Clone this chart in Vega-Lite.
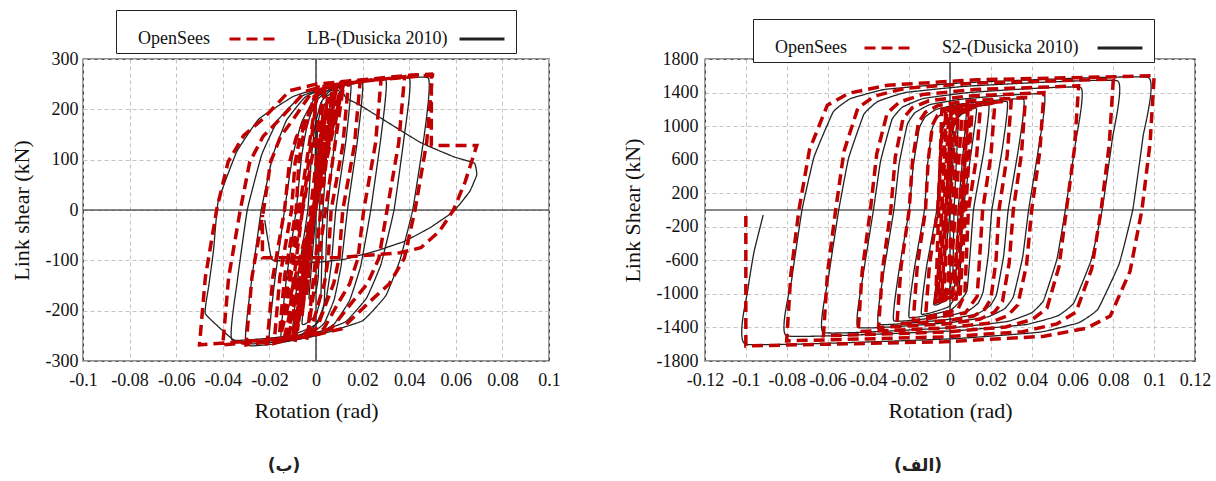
{
"$schema": "https://vega.github.io/schema/vega-lite/v6.json",
"background": "white",
"padding": {"left": 9, "top": 8, "right": 5, "bottom": 0},
"bounds": "flush",
"spacing": 156,
"resolve": {"scale": {"x": "independent", "y": "independent", "color": "independent", "strokeDash": "independent"}, "axis": {"x": "independent", "y": "independent"}, "legend": {"color": "independent", "strokeDash": "independent"}},
"config": {
"font": "Liberation Serif, Times New Roman, DejaVu Serif, serif",
"view": {"stroke": "#222", "strokeWidth": 1.3},
"style": {"guide-label": {"font": "Liberation Serif, Times New Roman, DejaVu Serif, serif"}, "guide-title": {"font": "Liberation Serif, Times New Roman, DejaVu Serif, serif"}},
"axis": {"labelOverlap": false, "tickCount": 20, "labelFont": "Liberation Serif, Times New Roman, DejaVu Serif, serif", "titleFont": "Liberation Serif, Times New Roman, DejaVu Serif, serif", "labelFontSize": 18, "titleFontSize": 22, "titleFontWeight": "normal", "labelColor": "#111", "titleColor": "#111", "grid": true, "gridDash": [4,3], "gridColor": "#c4c4c4", "ticks": false, "domain": false},
"legend": {"orient": "none", "direction": "horizontal", "strokeColor": "#222", "fillColor": "white", "padding": 5, "symbolType": "stroke", "symbolSize": 2025, "symbolStrokeWidth": 3, "labelFont": "Liberation Serif, Times New Roman, DejaVu Serif, serif", "labelFontSize": 18, "labelColor": "#111", "labelLimit": 400, "labelAlign": "left", "columnPadding": 26, "cornerRadius": 0}
},
"datasets": {
"lbE": [
{"s":"E","x":0,"y":0},{"s":"E","x":0.003,"y":170},{"s":"E","x":0.0015,"y":0},{"s":"E","x":0.001,"y":-131},{"s":"E","x":-0.0001,"y":-163},{"s":"E","x":-0.003,"y":-175},
{"s":"E","x":0,"y":0},{"s":"E","x":0.0006,"y":161},{"s":"E","x":0.0021,"y":200},{"s":"E","x":0.006,"y":215},
{"s":"E","x":0.003,"y":0},{"s":"E","x":0.0021,"y":-169},{"s":"E","x":-0.0001,"y":-209},{"s":"E","x":-0.006,"y":-225},
{"s":"E","x":-0.001,"y":0},{"s":"E","x":0.0001,"y":176},{"s":"E","x":0.0029,"y":219},{"s":"E","x":0.01,"y":235},
{"s":"E","x":0.005,"y":0},{"s":"E","x":0.0035,"y":-184},{"s":"E","x":-0.0003,"y":-228},{"s":"E","x":-0.01,"y":-245},
{"s":"E","x":-0.0078,"y":-135},{"s":"E","x":-0.0035,"y":0},{"s":"E","x":-0.002,"y":104},{"s":"E","x":-0.0004,"y":169},{"s":"E","x":0.0021,"y":213},{"s":"E","x":0.0058,"y":236},{"s":"E","x":0.015,"y":248},
{"s":"E","x":0.0128,"y":136},{"s":"E","x":0.0085,"y":0},{"s":"E","x":0.0066,"y":-107},{"s":"E","x":0.0045,"y":-173},{"s":"E","x":0.0015,"y":-219},{"s":"E","x":-0.0033,"y":-242},{"s":"E","x":-0.015,"y":-255},
{"s":"E","x":-0.0128,"y":-140},{"s":"E","x":-0.0085,"y":0},{"s":"E","x":-0.0062,"y":106},{"s":"E","x":-0.0037,"y":171},{"s":"E","x":0.0001,"y":217},{"s":"E","x":0.0058,"y":239},{"s":"E","x":0.02,"y":252},
{"s":"E","x":0.0178,"y":139},{"s":"E","x":0.0135,"y":0},{"s":"E","x":0.0108,"y":-110},{"s":"E","x":0.0078,"y":-178},{"s":"E","x":0.0035,"y":-225},{"s":"E","x":-0.0033,"y":-249},{"s":"E","x":-0.02,"y":-262},
{"s":"E","x":-0.0178,"y":-144},{"s":"E","x":-0.0135,"y":0},{"s":"E","x":-0.01,"y":108},{"s":"E","x":-0.0061,"y":175},{"s":"E","x":-0.0005,"y":222},{"s":"E","x":0.0083,"y":245},{"s":"E","x":0.03,"y":258},
{"s":"E","x":0.0278,"y":142},{"s":"E","x":0.0235,"y":0},{"s":"E","x":0.0192,"y":-111},{"s":"E","x":0.0144,"y":-180},{"s":"E","x":0.0075,"y":-228},{"s":"E","x":-0.0033,"y":-252},{"s":"E","x":-0.03,"y":-265},
{"s":"E","x":-0.0278,"y":-146},{"s":"E","x":-0.0235,"y":0},{"s":"E","x":-0.0184,"y":110},{"s":"E","x":-0.0127,"y":178},{"s":"E","x":-0.0045,"y":225},{"s":"E","x":0.0083,"y":249},{"s":"E","x":0.04,"y":262},
{"s":"E","x":0.0378,"y":144},{"s":"E","x":0.0335,"y":0},{"s":"E","x":0.0279,"y":-108},{"s":"E","x":0.0217,"y":-175},{"s":"E","x":0.0127,"y":-222},{"s":"E","x":-0.0013,"y":-245},{"s":"E","x":-0.036,"y":-258},
{"s":"E","x":-0.0338,"y":-142},{"s":"E","x":-0.0295,"y":0},{"s":"E","x":-0.0233,"y":110},{"s":"E","x":-0.0163,"y":179},{"s":"E","x":-0.0063,"y":226},{"s":"E","x":0.0093,"y":250},{"s":"E","x":0.048,"y":263},
{"s":"E","x":0.0465,"y":150},{"s":"E","x":0.0415,"y":0},{"s":"E","x":0.036,"y":-100},{"s":"E","x":0.03,"y":-170},{"s":"E","x":0.02,"y":-220},{"s":"E","x":0,"y":-250},{"s":"E","x":-0.018,"y":-266},{"s":"E","x":-0.028,"y":-270},{"s":"E","x":-0.036,"y":-256},{"s":"E","x":-0.0475,"y":-206},
{"s":"E","x":-0.046,"y":-150},{"s":"E","x":-0.044,"y":-81},{"s":"E","x":-0.042,"y":17},{"s":"E","x":-0.034,"y":116},{"s":"E","x":-0.0245,"y":181},{"s":"E","x":-0.01,"y":225},{"s":"E","x":0,"y":240},{"s":"E","x":0.01,"y":244},{"s":"E","x":0.013,"y":222},{"s":"E","x":0.019,"y":208},{"s":"E","x":0.0445,"y":135},{"s":"E","x":0.059,"y":106},{"s":"E","x":0.068,"y":93},{"s":"E","x":0.069,"y":70},{"s":"E","x":0.066,"y":37},{"s":"E","x":0.059,"y":-3},{"s":"E","x":0.049,"y":-35},{"s":"E","x":0.038,"y":-62},{"s":"E","x":0.026,"y":-81},{"s":"E","x":0.012,"y":-98},{"s":"E","x":0,"y":-104},{"s":"E","x":-0.011,"y":-101},{"s":"E","x":-0.019,"y":-98},{"s":"E","x":-0.022,"y":-20}
],
"lbO": [
{"s":"O","x":0,"y":0},{"s":"O","x":0.002,"y":150},{"s":"O","x":-0.004,"y":-170},{"s":"O","x":0.003,"y":190},{"s":"O","x":-0.006,"y":-210},{"s":"O","x":0.005,"y":225},{"s":"O","x":-0.008,"y":-240},{"s":"O","x":0.007,"y":240},{"s":"O","x":-0.01,"y":-252},{"s":"O","x":0.009,"y":248},{"s":"O","x":-0.012,"y":-258},{"s":"O","x":0.011,"y":252},{"s":"O","x":-0.014,"y":-262},{"s":"O","x":0.012,"y":254},{"s":"O","x":-0.016,"y":-264},
{"s":"O","x":0.004,"y":250},{"s":"O","x":-0.009,"y":-262},{"s":"O","x":0.008,"y":252},{"s":"O","x":-0.004,"y":-260},{"s":"O","x":0.012,"y":254},{"s":"O","x":-0.013,"y":-263},{"s":"O","x":0.001,"y":248},{"s":"O","x":-0.016,"y":-264},
{"s":"O","x":-0.0135,"y":-132},{"s":"O","x":-0.0085,"y":0},{"s":"O","x":-0.0074,"y":92},{"s":"O","x":-0.0058,"y":141},{"s":"O","x":-0.0038,"y":174},{"s":"O","x":-0.0009,"y":225},{"s":"O","x":0.0028,"y":241},{"s":"O","x":0.014,"y":256},
{"s":"O","x":0.0115,"y":128},{"s":"O","x":0.0065,"y":0},{"s":"O","x":0.0053,"y":-95},{"s":"O","x":0.0036,"y":-146},{"s":"O","x":0.0014,"y":-180},{"s":"O","x":-0.0018,"y":-233},{"s":"O","x":-0.0058,"y":-249},{"s":"O","x":-0.018,"y":-265},
{"s":"O","x":-0.0155,"y":-133},{"s":"O","x":-0.0105,"y":0},{"s":"O","x":-0.009,"y":93},{"s":"O","x":-0.007,"y":142},{"s":"O","x":-0.0043,"y":175},{"s":"O","x":-0.0005,"y":227},{"s":"O","x":0.0043,"y":243},{"s":"O","x":0.019,"y":258},
{"s":"O","x":0.0165,"y":129},{"s":"O","x":0.0115,"y":0},{"s":"O","x":0.0099,"y":-96},{"s":"O","x":0.0076,"y":-146},{"s":"O","x":0.0047,"y":-181},{"s":"O","x":0.0005,"y":-234},{"s":"O","x":-0.0048,"y":-250},{"s":"O","x":-0.021,"y":-266},
{"s":"O","x":-0.0185,"y":-133},{"s":"O","x":-0.0135,"y":0},{"s":"O","x":-0.0114,"y":94},{"s":"O","x":-0.0085,"y":144},{"s":"O","x":-0.0048,"y":178},{"s":"O","x":0.0006,"y":231},{"s":"O","x":0.0073,"y":246},{"s":"O","x":0.028,"y":262},
{"s":"O","x":0.0255,"y":131},{"s":"O","x":0.0205,"y":0},{"s":"O","x":0.018,"y":-96},{"s":"O","x":0.0144,"y":-147},{"s":"O","x":0.0099,"y":-182},{"s":"O","x":0.0033,"y":-236},{"s":"O","x":-0.0048,"y":-252},{"s":"O","x":-0.03,"y":-268},
{"s":"O","x":-0.0275,"y":-134},{"s":"O","x":-0.0225,"y":0},{"s":"O","x":-0.0195,"y":95},{"s":"O","x":-0.0152,"y":146},{"s":"O","x":-0.0098,"y":180},{"s":"O","x":-0.0019,"y":233},{"s":"O","x":0.0078,"y":249},{"s":"O","x":0.038,"y":265},
{"s":"O","x":0.0355,"y":133},{"s":"O","x":0.0305,"y":0},{"s":"O","x":0.027,"y":-96},{"s":"O","x":0.022,"y":-147},{"s":"O","x":0.0157,"y":-182},{"s":"O","x":0.0065,"y":-236},{"s":"O","x":-0.0048,"y":-252},{"s":"O","x":-0.04,"y":-268},
{"s":"O","x":-0.0375,"y":-134},{"s":"O","x":-0.0325,"y":0},{"s":"O","x":-0.0284,"y":96},{"s":"O","x":-0.0226,"y":147},{"s":"O","x":-0.0152,"y":182},{"s":"O","x":-0.0045,"y":236},{"s":"O","x":0.0088,"y":252},{"s":"O","x":0.05,"y":268},
{"s":"O","x":0.0475,"y":134},{"s":"O","x":0.0425,"y":0},{"s":"O","x":0.0379,"y":-96},{"s":"O","x":0.0314,"y":-147},{"s":"O","x":0.0231,"y":-182},{"s":"O","x":0.011,"y":-236},{"s":"O","x":-0.0038,"y":-252},{"s":"O","x":-0.05,"y":-268},
{"s":"O","x":-0.0475,"y":-134},{"s":"O","x":-0.0425,"y":4},{"s":"O","x":-0.0377,"y":96},{"s":"O","x":-0.031,"y":148},{"s":"O","x":-0.0228,"y":181},{"s":"O","x":-0.0113,"y":237},{"s":"O","x":0,"y":250},{"s":"O","x":0.041,"y":268},{"s":"O","x":0.0495,"y":270},{"s":"O","x":0.0495,"y":128},{"s":"O","x":0.069,"y":128},{"s":"O","x":0.064,"y":56},{"s":"O","x":0.059,"y":0},{"s":"O","x":0.053,"y":-42},{"s":"O","x":0.045,"y":-75},{"s":"O","x":0.036,"y":-85},{"s":"O","x":0.008,"y":-95},{"s":"O","x":-0.023,"y":-95},{"s":"O","x":-0.023,"y":-10}
],
"s2E": [
{"s":"E","x":0,"y":0},{"s":"E","x":0.002,"y":800},{"s":"E","x":0.004,"y":1050},
{"s":"E","x":0.002,"y":0},{"s":"E","x":0.0014,"y":-750},{"s":"E","x":-0.0001,"y":-930},{"s":"E","x":-0.004,"y":-1000},
{"s":"E","x":0,"y":0},{"s":"E","x":0.0008,"y":862},{"s":"E","x":0.0028,"y":1070},{"s":"E","x":0.008,"y":1150},
{"s":"E","x":0.004,"y":0},{"s":"E","x":0.0028,"y":-840},{"s":"E","x":-0.0002,"y":-1042},{"s":"E","x":-0.008,"y":-1120},
{"s":"E","x":-0.0015,"y":0},{"s":"E","x":-0.0001,"y":900},{"s":"E","x":0.0036,"y":1116},{"s":"E","x":0.013,"y":1200},
{"s":"E","x":0.0065,"y":0},{"s":"E","x":0.0045,"y":-930},{"s":"E","x":-0.0007,"y":-1153},{"s":"E","x":-0.014,"y":-1240},
{"s":"E","x":-0.0115,"y":-680},{"s":"E","x":-0.0065,"y":0},{"s":"E","x":-0.004,"y":938},{"s":"E","x":0.0024,"y":1163},{"s":"E","x":0.019,"y":1250},
{"s":"E","x":0.0165,"y":690},{"s":"E","x":0.0115,"y":0},{"s":"E","x":0.0083,"y":-960},{"s":"E","x":0.0005,"y":-1190},{"s":"E","x":-0.02,"y":-1280},
{"s":"E","x":-0.0175,"y":-704},{"s":"E","x":-0.0125,"y":0},{"s":"E","x":-0.0111,"y":516},{"s":"E","x":-0.0089,"y":955},{"s":"E","x":-0.0068,"y":1084},{"s":"E","x":-0.0028,"y":1174},{"s":"E","x":0.0065,"y":1238},{"s":"E","x":0.028,"y":1290},
{"s":"E","x":0.0255,"y":710},{"s":"E","x":0.0205,"y":0},{"s":"E","x":0.0188,"y":-528},{"s":"E","x":0.0162,"y":-977},{"s":"E","x":0.0138,"y":-1109},{"s":"E","x":0.009,"y":-1201},{"s":"E","x":-0.0021,"y":-1267},{"s":"E","x":-0.0275,"y":-1320},
{"s":"E","x":-0.025,"y":-726},{"s":"E","x":-0.02,"y":0},{"s":"E","x":-0.018,"y":528},{"s":"E","x":-0.015,"y":977},{"s":"E","x":-0.0122,"y":1109},{"s":"E","x":-0.0066,"y":1201},{"s":"E","x":0.0063,"y":1267},{"s":"E","x":0.036,"y":1320},
{"s":"E","x":0.0335,"y":726},{"s":"E","x":0.0285,"y":0},{"s":"E","x":0.0263,"y":-544},{"s":"E","x":0.0228,"y":-1006},{"s":"E","x":0.0196,"y":-1142},{"s":"E","x":0.0133,"y":-1238},{"s":"E","x":-0.0014,"y":-1306},{"s":"E","x":-0.035,"y":-1360},
{"s":"E","x":-0.0325,"y":-748},{"s":"E","x":-0.0275,"y":0},{"s":"E","x":-0.0249,"y":552},{"s":"E","x":-0.0209,"y":1021},{"s":"E","x":-0.0172,"y":1159},{"s":"E","x":-0.0099,"y":1256},{"s":"E","x":0.0071,"y":1325},{"s":"E","x":0.046,"y":1380},
{"s":"E","x":0.0435,"y":759},{"s":"E","x":0.0385,"y":0},{"s":"E","x":0.0356,"y":-560},{"s":"E","x":0.031,"y":-1036},{"s":"E","x":0.0268,"y":-1176},{"s":"E","x":0.0185,"y":-1274},{"s":"E","x":-0.0008,"y":-1344},{"s":"E","x":-0.045,"y":-1400},
{"s":"E","x":-0.0425,"y":-770},{"s":"E","x":-0.0375,"y":0},{"s":"E","x":-0.034,"y":584},{"s":"E","x":-0.0284,"y":1080},{"s":"E","x":-0.0233,"y":1226},{"s":"E","x":-0.0131,"y":1329},{"s":"E","x":0.0102,"y":1402},{"s":"E","x":0.064,"y":1460},
{"s":"E","x":0.0615,"y":803},{"s":"E","x":0.0565,"y":0},{"s":"E","x":0.0524,"y":-584},{"s":"E","x":0.0458,"y":-1080},{"s":"E","x":0.0399,"y":-1226},{"s":"E","x":0.0281,"y":-1329},{"s":"E","x":0.0008,"y":-1402},{"s":"E","x":-0.062,"y":-1460},
{"s":"E","x":-0.0595,"y":-803},{"s":"E","x":-0.0545,"y":0},{"s":"E","x":-0.0497,"y":616},{"s":"E","x":-0.0422,"y":1140},{"s":"E","x":-0.0354,"y":1294},{"s":"E","x":-0.0217,"y":1401},{"s":"E","x":0.0097,"y":1478},{"s":"E","x":0.082,"y":1540},
{"s":"E","x":0.0795,"y":847},{"s":"E","x":0.0745,"y":0},{"s":"E","x":0.0691,"y":-600},{"s":"E","x":0.0606,"y":-1110},{"s":"E","x":0.0529,"y":-1260},{"s":"E","x":0.0374,"y":-1365},{"s":"E","x":0.0019,"y":-1440},{"s":"E","x":-0.08,"y":-1500},
{"s":"E","x":-0.0775,"y":-825},{"s":"E","x":-0.0725,"y":0},{"s":"E","x":-0.0666,"y":632},{"s":"E","x":-0.0572,"y":1169},{"s":"E","x":-0.0488,"y":1327},{"s":"E","x":-0.0318,"y":1438},{"s":"E","x":0.0072,"y":1517},{"s":"E","x":0.097,"y":1580},
{"s":"E","x":0.0945,"y":869},{"s":"E","x":0.0895,"y":0},{"s":"E","x":0.0829,"y":-640},{"s":"E","x":0.0724,"y":-1184},{"s":"E","x":0.063,"y":-1344},{"s":"E","x":0.044,"y":-1456},{"s":"E","x":0.0004,"y":-1536},{"s":"E","x":-0.1,"y":-1600},
{"s":"E","x":-0.099,"y":-950},{"s":"E","x":-0.096,"y":-500},{"s":"E","x":-0.0915,"y":-60}
],
"s2O": [
{"s":"O","x":0,"y":0},{"s":"O","x":0.0025,"y":1000},{"s":"O","x":0.004,"y":1150},
{"s":"O","x":-0.001,"y":-900},{"s":"O","x":-0.003,"y":-1000},
{"s":"O","x":0.0015,"y":1120},{"s":"O","x":0.006,"y":1180},
{"s":"O","x":0,"y":-930},{"s":"O","x":-0.004,"y":-1030},
{"s":"O","x":0.0005,"y":1150},{"s":"O","x":0.008,"y":1210},
{"s":"O","x":0.002,"y":-950},{"s":"O","x":-0.005,"y":-1060},
{"s":"O","x":-0.0005,"y":1180},{"s":"O","x":0.01,"y":1240},
{"s":"O","x":0.004,"y":-980},{"s":"O","x":-0.006,"y":-1080},
{"s":"O","x":-0.0015,"y":1190},{"s":"O","x":0.011,"y":1250},
{"s":"O","x":0.005,"y":-1000},{"s":"O","x":-0.007,"y":-1100},
{"s":"O","x":-0.004,"y":1200},{"s":"O","x":0.009,"y":1245},{"s":"O","x":0.003,"y":-1060},{"s":"O","x":-0.006,"y":-1090},{"s":"O","x":-0.002,"y":1215},{"s":"O","x":0.01,"y":1250},{"s":"O","x":0.001,"y":-1050},{"s":"O","x":-0.007,"y":-1100},
{"s":"O","x":-0.005,"y":-550},{"s":"O","x":-0.001,"y":0},{"s":"O","x":0.0003,"y":983},{"s":"O","x":0.003,"y":1172},{"s":"O","x":0.015,"y":1260},
{"s":"O","x":0.013,"y":630},{"s":"O","x":0.009,"y":0},{"s":"O","x":0.0073,"y":-998},{"s":"O","x":0.0038,"y":-1190},{"s":"O","x":-0.012,"y":-1280},
{"s":"O","x":-0.01,"y":-640},{"s":"O","x":-0.006,"y":0},{"s":"O","x":-0.0038,"y":998},{"s":"O","x":0.001,"y":1190},{"s":"O","x":0.022,"y":1280},
{"s":"O","x":0.02,"y":640},{"s":"O","x":0.016,"y":0},{"s":"O","x":0.0133,"y":-1030},{"s":"O","x":0.0075,"y":-1228},{"s":"O","x":-0.018,"y":-1320},
{"s":"O","x":-0.016,"y":-660},{"s":"O","x":-0.012,"y":0},{"s":"O","x":-0.0107,"y":585},{"s":"O","x":-0.0086,"y":1014},{"s":"O","x":-0.0061,"y":1131},{"s":"O","x":-0.0015,"y":1209},{"s":"O","x":0.009,"y":1261},{"s":"O","x":0.03,"y":1300},
{"s":"O","x":0.028,"y":650},{"s":"O","x":0.024,"y":0},{"s":"O","x":0.0225,"y":-612},{"s":"O","x":0.02,"y":-1061},{"s":"O","x":0.017,"y":-1183},{"s":"O","x":0.0115,"y":-1265},{"s":"O","x":-0.001,"y":-1319},{"s":"O","x":-0.026,"y":-1360},
{"s":"O","x":-0.024,"y":-680},{"s":"O","x":-0.02,"y":0},{"s":"O","x":-0.0183,"y":603},{"s":"O","x":-0.0154,"y":1045},{"s":"O","x":-0.012,"y":1166},{"s":"O","x":-0.0058,"y":1246},{"s":"O","x":0.0085,"y":1300},{"s":"O","x":0.037,"y":1340},
{"s":"O","x":0.035,"y":670},{"s":"O","x":0.031,"y":0},{"s":"O","x":0.029,"y":-630},{"s":"O","x":0.0257,"y":-1092},{"s":"O","x":0.0218,"y":-1218},{"s":"O","x":0.0145,"y":-1302},{"s":"O","x":-0.002,"y":-1358},{"s":"O","x":-0.035,"y":-1400},
{"s":"O","x":-0.033,"y":-700},{"s":"O","x":-0.029,"y":0},{"s":"O","x":-0.0268,"y":630},{"s":"O","x":-0.023,"y":1092},{"s":"O","x":-0.0185,"y":1218},{"s":"O","x":-0.0103,"y":1302},{"s":"O","x":0.0085,"y":1358},{"s":"O","x":0.046,"y":1400},
{"s":"O","x":0.044,"y":700},{"s":"O","x":0.04,"y":0},{"s":"O","x":0.0375,"y":-653},{"s":"O","x":0.0332,"y":-1131},{"s":"O","x":0.0281,"y":-1262},{"s":"O","x":0.0188,"y":-1349},{"s":"O","x":-0.0025,"y":-1407},{"s":"O","x":-0.045,"y":-1450},
{"s":"O","x":-0.043,"y":-725},{"s":"O","x":-0.039,"y":0},{"s":"O","x":-0.0359,"y":666},{"s":"O","x":-0.0308,"y":1154},{"s":"O","x":-0.0247,"y":1288},{"s":"O","x":-0.0135,"y":1376},{"s":"O","x":0.012,"y":1436},{"s":"O","x":0.063,"y":1480},
{"s":"O","x":0.061,"y":740},{"s":"O","x":0.057,"y":0},{"s":"O","x":0.0534,"y":-675},{"s":"O","x":0.0475,"y":-1170},{"s":"O","x":0.0403,"y":-1305},{"s":"O","x":0.0273,"y":-1395},{"s":"O","x":-0.0025,"y":-1455},{"s":"O","x":-0.062,"y":-1500},
{"s":"O","x":-0.06,"y":-750},{"s":"O","x":-0.056,"y":0},{"s":"O","x":-0.0519,"y":702},{"s":"O","x":-0.0451,"y":1217},{"s":"O","x":-0.037,"y":1357},{"s":"O","x":-0.022,"y":1451},{"s":"O","x":0.012,"y":1513},{"s":"O","x":0.08,"y":1560},
{"s":"O","x":0.078,"y":780},{"s":"O","x":0.074,"y":0},{"s":"O","x":0.0694,"y":-702},{"s":"O","x":0.0617,"y":-1217},{"s":"O","x":0.0524,"y":-1357},{"s":"O","x":0.0355,"y":-1451},{"s":"O","x":-0.003,"y":-1513},{"s":"O","x":-0.08,"y":-1560},
{"s":"O","x":-0.078,"y":-780},{"s":"O","x":-0.074,"y":0},{"s":"O","x":-0.0688,"y":720},{"s":"O","x":-0.0601,"y":1248},{"s":"O","x":-0.0496,"y":1392},{"s":"O","x":-0.0305,"y":1488},{"s":"O","x":0.013,"y":1552},{"s":"O","x":0.1,"y":1600},
{"s":"O","x":0.098,"y":800},{"s":"O","x":0.094,"y":0},{"s":"O","x":0.0882,"y":-729},{"s":"O","x":0.0785,"y":-1264},{"s":"O","x":0.0668,"y":-1409},{"s":"O","x":0.0455,"y":-1507},{"s":"O","x":-0.003,"y":-1571},{"s":"O","x":-0.1,"y":-1620},
{"s":"O","x":-0.1,"y":0}
]
},
"hconcat": [
{
"width": 466, "height": 302,
"title": {"text": "(ب)", "orient": "bottom", "anchor": "middle", "offset": 37, "dx": -32, "font": "DejaVu Sans", "fontSize": 17, "fontWeight": "bold", "color": "#222"},
"layer": [
{"data": {"values": [{}]}, "mark": {"type": "rule", "color": "#111", "strokeWidth": 1.2}, "encoding": {"x": {"datum": 0, "type": "quantitative"}}},
{"data": {"values": [{}]}, "mark": {"type": "rule", "color": "#111", "strokeWidth": 1.2}, "encoding": {"y": {"datum": 0, "type": "quantitative"}}},
{"data": {"name": "lbE"}, "mark": {"type": "line", "strokeWidth": 1.3, "clip": true, "interpolate": "cardinal", "tension": 0.7},
"encoding": {
"x": {"field": "x", "type": "quantitative", "scale": {"domain": [-0.1, 0.1], "nice": false, "zero": false},
"axis": {"title": "Rotation (rad)", "values": [-0.1,-0.08,-0.06,-0.04,-0.02,0,0.02,0.04,0.06,0.08,0.1], "tickCount": 20, "labelExpr": "toString(datum.value)", "labelFont": "Liberation Serif, Times New Roman, DejaVu Serif, serif", "titleFont": "Liberation Serif, Times New Roman, DejaVu Serif, serif", "labelFontSize": 18, "titleFontSize": 22, "labelPadding": 10, "labelFlush": false, "labelOverlap": false, "titlePadding": 11}},
"y": {"field": "y", "type": "quantitative", "scale": {"domain": [-300, 300], "nice": false, "zero": false},
"axis": {"title": "Link shear (kN)", "values": [-300,-200,-100,0,100,200,300], "tickCount": 20, "labelExpr": "toString(datum.value)", "labelFont": "Liberation Serif, Times New Roman, DejaVu Serif, serif", "titleFont": "Liberation Serif, Times New Roman, DejaVu Serif, serif", "labelFontSize": 18, "titleFontSize": 22, "labelPadding": 5, "labelOverlap": false, "titlePadding": 12}},
"color": {"field": "s", "type": "nominal", "scale": {"domain": ["O", "E"], "range": ["#C00000", "#222222"]}, "legend": {"title": null, "legendX": 33, "legendY": -49, "labelExpr": "datum.label == 'O' ? 'OpenSees' : 'LB-(Dusicka 2010)'", "encode": {"labels": {"update": {"x": {"signal": "datum.value === 'O' ? 17 : 0"}}}, "symbols": {"update": {"x": {"signal": "datum.value === 'O' ? 131 : 175"}, "stroke": {"signal": "datum.value === 'O' ? '#e00000' : '#111111'"}}}}}},
"strokeDash": {"field": "s", "type": "nominal", "scale": {"domain": ["O", "E"], "range": [[11, 6], [1, 0]]}, "legend": {"title": null, "legendX": 33, "legendY": -49, "labelExpr": "datum.label == 'O' ? 'OpenSees' : 'LB-(Dusicka 2010)'", "encode": {"labels": {"update": {"x": {"signal": "datum.value === 'O' ? 17 : 0"}}}, "symbols": {"update": {"x": {"signal": "datum.value === 'O' ? 131 : 175"}, "stroke": {"signal": "datum.value === 'O' ? '#e00000' : '#111111'"}}}}}},
"order": {"value": null}
}},
{"data": {"name": "lbO"}, "mark": {"type": "line", "strokeWidth": 3.5, "clip": true},
"encoding": {
"x": {"field": "x", "type": "quantitative"},
"y": {"field": "y", "type": "quantitative"},
"color": {"field": "s", "type": "nominal"},
"strokeDash": {"field": "s", "type": "nominal"},
"order": {"value": null}
}}
]
},
{
"width": 490, "height": 302,
"title": {"text": "(الف)", "orient": "bottom", "anchor": "middle", "offset": 37, "dx": -32, "font": "DejaVu Sans", "fontSize": 17, "fontWeight": "bold", "color": "#222"},
"layer": [
{"data": {"values": [{}]}, "mark": {"type": "rule", "color": "#111", "strokeWidth": 1.2}, "encoding": {"x": {"datum": 0, "type": "quantitative"}}},
{"data": {"values": [{}]}, "mark": {"type": "rule", "color": "#111", "strokeWidth": 1.2}, "encoding": {"y": {"datum": 0, "type": "quantitative"}}},
{"data": {"name": "s2E"}, "mark": {"type": "line", "strokeWidth": 1.3, "clip": true, "interpolate": "cardinal", "tension": 0.7},
"encoding": {
"x": {"field": "x", "type": "quantitative", "scale": {"domain": [-0.12, 0.12], "nice": false, "zero": false},
"axis": {"title": "Rotation (rad)", "values": [-0.12,-0.1,-0.08,-0.06,-0.04,-0.02,0,0.02,0.04,0.06,0.08,0.1,0.12], "tickCount": 20, "labelExpr": "toString(datum.value)", "labelFont": "Liberation Serif, Times New Roman, DejaVu Serif, serif", "titleFont": "Liberation Serif, Times New Roman, DejaVu Serif, serif", "labelFontSize": 18, "titleFontSize": 22, "labelPadding": 10, "labelFlush": false, "labelOverlap": false, "titlePadding": 11}},
"y": {"field": "y", "type": "quantitative", "scale": {"domain": [-1800, 1800], "nice": false, "zero": false},
"axis": {"title": "Link Shear (kN)", "values": [-1800,-1400,-1000,-600,-200,200,600,1000,1400,1800], "tickCount": 20, "labelExpr": "toString(datum.value)", "labelFont": "Liberation Serif, Times New Roman, DejaVu Serif, serif", "titleFont": "Liberation Serif, Times New Roman, DejaVu Serif, serif", "labelFontSize": 18, "titleFontSize": 22, "labelPadding": 7, "labelOverlap": false, "titlePadding": 12}},
"color": {"field": "s", "type": "nominal", "scale": {"domain": ["O", "E"], "range": ["#C00000", "#222222"]}, "legend": {"title": null, "legendX": 48, "legendY": -40, "labelExpr": "datum.label == 'O' ? 'OpenSees' : 'S2-(Dusicka 2010)'", "encode": {"labels": {"update": {"x": {"signal": "datum.value === 'O' ? 17 : 0"}}}, "symbols": {"update": {"x": {"signal": "datum.value === 'O' ? 129 : 178"}, "stroke": {"signal": "datum.value === 'O' ? '#e00000' : '#111111'"}}}}}},
"strokeDash": {"field": "s", "type": "nominal", "scale": {"domain": ["O", "E"], "range": [[11, 6], [1, 0]]}, "legend": {"title": null, "legendX": 48, "legendY": -40, "labelExpr": "datum.label == 'O' ? 'OpenSees' : 'S2-(Dusicka 2010)'", "encode": {"labels": {"update": {"x": {"signal": "datum.value === 'O' ? 17 : 0"}}}, "symbols": {"update": {"x": {"signal": "datum.value === 'O' ? 129 : 178"}, "stroke": {"signal": "datum.value === 'O' ? '#e00000' : '#111111'"}}}}}},
"order": {"value": null}
}},
{"data": {"name": "s2O"}, "mark": {"type": "line", "strokeWidth": 3.5, "clip": true},
"encoding": {
"x": {"field": "x", "type": "quantitative"},
"y": {"field": "y", "type": "quantitative"},
"color": {"field": "s", "type": "nominal"},
"strokeDash": {"field": "s", "type": "nominal"},
"order": {"value": null}
}}
]
}
]
}
